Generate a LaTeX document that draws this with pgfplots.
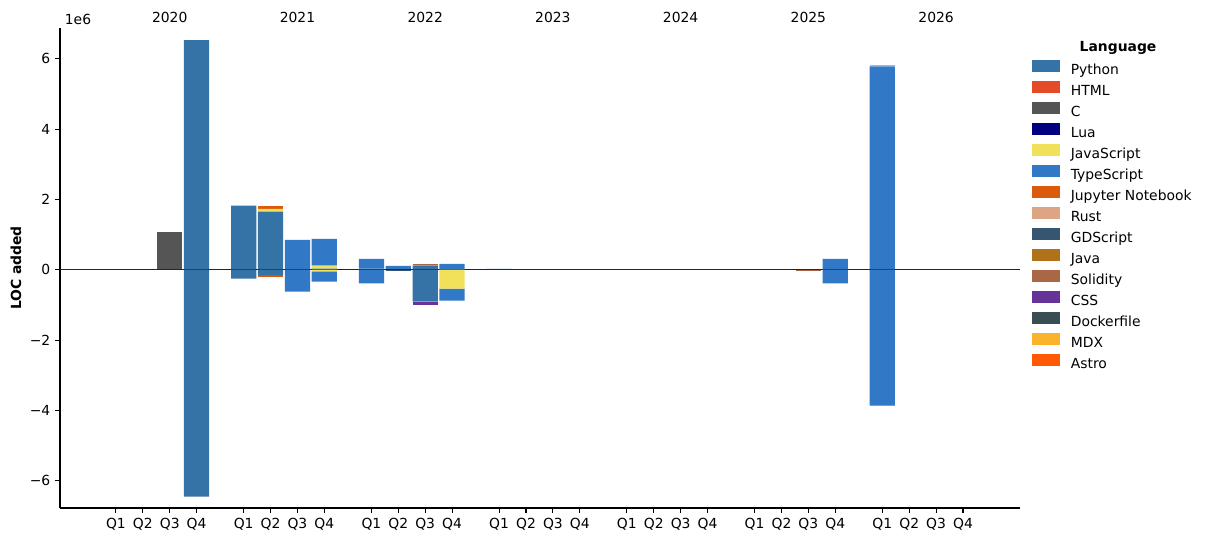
\documentclass[border=0pt]{standalone}
\usepackage{fontspec}
\setmainfont{DejaVu Sans}
\usepackage{pgfplots}
\usepackage{pgfplotstable}
\pgfplotsset{compat=1.18}

\definecolor{cPython}{HTML}{3572A5}
\definecolor{cHTML}{HTML}{E34C26}
\definecolor{cC}{HTML}{555555}
\definecolor{cLua}{HTML}{000080}
\definecolor{cJS}{HTML}{F1E05A}
\definecolor{cTS}{HTML}{3178C6}
\definecolor{cJup}{HTML}{DA5B0B}
\definecolor{cRust}{HTML}{DEA584}
\definecolor{cGD}{HTML}{355570}
\definecolor{cJava}{HTML}{B07219}
\definecolor{cSol}{HTML}{AA6746}
\definecolor{cCSS}{HTML}{663399}
\definecolor{cDock}{HTML}{384D54}
\definecolor{cMDX}{HTML}{FCB32C}
\definecolor{cAstro}{HTML}{FF5A03}

% positive LOC (millions)
\pgfplotstableread{
x     Python C    JavaScript TypeScript Jupyter Rust Java  Solidity
2     0      1.08 0          0          0       0    0     0
3     6.53   0    0          0          0       0    0     0
4.75  1.82   0    0          0          0       0    0     0
5.75  1.656  0    0.077      0          0.085   0    0     0
6.75  0      0    0          0.852      0       0    0     0
7.75  0.03   0    0.085      0.765      0       0    0     0
9.5   0.03   0    0          0.28       0       0    0     0
10.5  0      0    0          0.11       0       0    0     0
11.5  0.122  0    0          0          0       0    0     0.028
12.5  0      0    0          0.17       0       0    0     0
14.25 0      0    0          0.025      0       0    0     0
22    0      0    0          0          0       0    0.015 0
26.75 0      0    0          0.31       0       0    0     0
28.5  0      0    0          5.78       0       0.05 0     0
}\postable

% negative LOC (millions)
\pgfplotstableread{
x     Python JavaScript TypeScript Jupyter Rust  GDScript Solidity CSS
3     -6.45  0          0          0       0     0        0        0
4.75  -0.256 0          0          0       0     0        0        0
5.75  -0.162 0          0          -0.037  0     0        0        0
6.75  0      0          -0.625     0       0     0        0        0
7.75  0      -0.05      -0.29      0       0     0        0        0
9.5   0      0          -0.39      0       0     0        0        0
10.5  0      0          0          0       0     -0.025   0        0
11.5  -0.91  0          0          0       0     0        0        -0.085
12.5  0      -0.54      -0.34      0       0     0        0        0
25.75 0      0          0          0       0     0        -0.015   0
26.75 0      0          -0.39      0       0     0        0        0
28.5  0      0          -3.855     0       -0.03 0        0        0
}\negtable

\pgfplotsset{
  base/.style={
    width=691.2pt, height=345.6pt, scale only axis,
    xmin=-2.08, xmax=33.62, ymin=-6.776, ymax=6.875,
    ybar stacked, bar width=0.94,
    every axis plot/.append style={draw=none},
  }
}

\begin{document}
\begin{tikzpicture}
\path[use as bounding box] (-43.2pt,-24.48pt) rectangle (825.84pt,365.76pt);

\begin{axis}[base,
  axis x line*=bottom, axis y line*=left,
  axis line style={line width=0.8pt, black},
  tick align=outside, major tick length=3.5pt,
  tick style={line width=0.8pt, black},
  xtick={0,1,2,3, 4.75,5.75,6.75,7.75, 9.5,10.5,11.5,12.5, 14.25,15.25,16.25,17.25, 19,20,21,22, 23.75,24.75,25.75,26.75, 28.5,29.5,30.5,31.5},
  xticklabels={Q1,Q2,Q3,Q4,Q1,Q2,Q3,Q4,Q1,Q2,Q3,Q4,Q1,Q2,Q3,Q4,Q1,Q2,Q3,Q4,Q1,Q2,Q3,Q4,Q1,Q2,Q3,Q4},
  ytick={-6,-4,-2,0,2,4,6},
  yticklabels={−6,−4,−2,0,2,4,6},
  ticklabel style={font=\fontsize{10}{12}\selectfont},
  ylabel={\bfseries LOC added},
  ylabel style={at={(axis description cs:-0.0458,0.5)}, anchor=center, font=\fontsize{10}{12}\selectfont},
  legend image code/.code={\fill[#1] (0pt,-1.1pt) rectangle (20pt,7.4pt);},
  legend style={draw=none, fill=none, inner sep=0pt, outer sep=0pt,
    at={(rel axis cs:1,1)}, anchor=north west, xshift=8.6pt, yshift=-23.4pt,
    font=\fontsize{10}{12}\selectfont,
    row sep=2.95pt,
    nodes={inner sep=0pt, text height=7.5pt, text depth=2pt},
    /tikz/every odd column/.append style={column sep=8pt}},
  legend cell align=left,
]
\addplot[fill=cPython] table[x=x, y=Python] {\postable};
\addlegendentry{Python}
\addlegendimage{fill=cHTML, draw=none}
\addlegendentry{HTML}
\addplot[fill=cC] table[x=x, y=C] {\postable};
\addlegendentry{C}
\addlegendimage{fill=cLua, draw=none}
\addlegendentry{Lua}
\addplot[fill=cJS] table[x=x, y=JavaScript] {\postable};
\addlegendentry{JavaScript}
\addplot[fill=cTS] table[x=x, y=TypeScript] {\postable};
\addlegendentry{TypeScript}
\addplot[fill=cJup] table[x=x, y=Jupyter] {\postable};
\addlegendentry{Jupyter Notebook}
\addplot[fill=cRust] table[x=x, y=Rust] {\postable};
\addlegendentry{Rust}
\addlegendimage{fill=cGD, draw=none}
\addlegendentry{GDScript}
\addplot[fill=cJava] table[x=x, y=Java] {\postable};
\addlegendentry{Java}
\addplot[fill=cSol] table[x=x, y=Solidity] {\postable};
\addlegendentry{Solidity}
\addlegendimage{fill=cCSS, draw=none}
\addlegendentry{CSS}
\addlegendimage{fill=cDock, draw=none}
\addlegendentry{Dockerfile}
\addlegendimage{fill=cMDX, draw=none}
\addlegendentry{MDX}
\addlegendimage{fill=cAstro, draw=none}
\addlegendentry{Astro}
\end{axis}

\begin{axis}[base, hide axis, clip=false]
\addplot[fill=cPython] table[x=x, y=Python] {\negtable};
\addplot[fill=cJS] table[x=x, y=JavaScript] {\negtable};
\addplot[fill=cTS] table[x=x, y=TypeScript] {\negtable};
\addplot[fill=cJup] table[x=x, y=Jupyter] {\negtable};
\addplot[fill=cRust] table[x=x, y=Rust] {\negtable};
\addplot[fill=cGD] table[x=x, y=GDScript] {\negtable};
\addplot[fill=cSol] table[x=x, y=Solidity] {\negtable};
\addplot[fill=cCSS] table[x=x, y=CSS] {\negtable};
\draw[line width=0.7pt, black!85] (axis cs:-2.08,0) -- (axis cs:33.62,0);
\node[anchor=base west, font=\fontsize{10}{12}\selectfont] at ([yshift=2.2pt]rel axis cs:0,1) {1e6};
\node[anchor=base, font=\fontsize{10}{12}\selectfont] at ([yshift=4.3pt]axis cs:2,6.875) {2020};
\node[anchor=base, font=\fontsize{10}{12}\selectfont] at ([yshift=4.3pt]axis cs:6.75,6.875) {2021};
\node[anchor=base, font=\fontsize{10}{12}\selectfont] at ([yshift=4.3pt]axis cs:11.5,6.875) {2022};
\node[anchor=base, font=\fontsize{10}{12}\selectfont] at ([yshift=4.3pt]axis cs:16.25,6.875) {2023};
\node[anchor=base, font=\fontsize{10}{12}\selectfont] at ([yshift=4.3pt]axis cs:21,6.875) {2024};
\node[anchor=base, font=\fontsize{10}{12}\selectfont] at ([yshift=4.3pt]axis cs:25.75,6.875) {2025};
\node[anchor=base, font=\fontsize{10}{12}\selectfont] at ([yshift=4.3pt]axis cs:30.5,6.875) {2026};
\node[anchor=base, font=\fontsize{10}{12}\selectfont\bfseries] at ([xshift=70.6pt, yshift=-16.9pt]rel axis cs:1,1) {Language};
\end{axis}
\end{tikzpicture}
\end{document}
